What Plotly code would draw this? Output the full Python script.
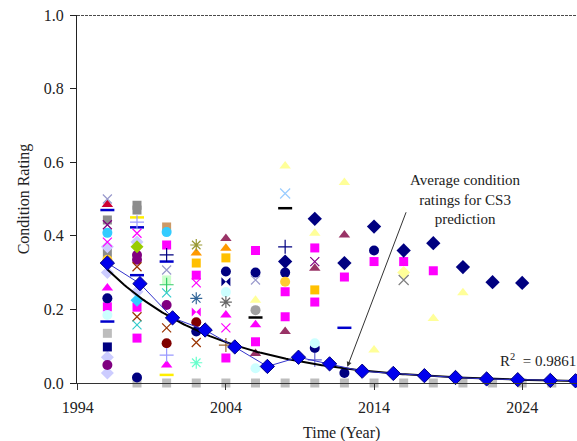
import numpy as np
import plotly.graph_objects as go

# ---------------- data (year, condition rating) ----------------
silver_square_x = [1996, 1998, 2000, 2002, 2004, 2006, 2008, 2010, 2012, 2014, 2016, 2018, 2020, 2022, 2024, 2026]
silver_square_y = [0.135, 0.0, 0.0, 0.0, 0.0, 0.0, 0.0, 0.0, 0.0, 0.0, 0.0, 0.0, 0.0, 0.0, 0.0, 0.0]

gray_square_x = [1996, 1996, 1998, 1998]
gray_square_y = [0.443, 0.353, 0.483, 0.47]

magenta_square_x = [1996, 1998, 1998, 2000, 2002, 2004, 2006, 2006, 2008, 2008, 2010, 2010, 2012, 2014, 2016, 2018]
magenta_square_y = [0.207, 0.122, 0.206, 0.375, 0.293, 0.068, 0.36, 0.112, 0.248, 0.18, 0.367, 0.22, 0.288, 0.33, 0.33, 0.305]

navy_diamond_x = [2008, 2010, 2012, 2014, 2016, 2018, 2020, 2022, 2024]
navy_diamond_y = [0.33, 0.446, 0.326, 0.425, 0.36, 0.38, 0.315, 0.274, 0.272]

navy_circle_x = [1996, 1998, 2002, 2004, 2006, 2008, 2010, 2012, 2014]
navy_circle_y = [0.23, 0.015, 0.14, 0.303, 0.30, 0.30, 0.095, 0.027, 0.36]

navy_square_x = [1996]
navy_square_y = [0.098]

purple_circle_x = [1996, 1998, 1998, 2000]
purple_circle_y = [0.049, 0.348, 0.335, 0.212]

darkred_circle_x = [2000, 2002]
darkred_circle_y = [0.108, 0.165]

lightyellow_triangle_x = [2006, 2008, 2010, 2012, 2014, 2018, 2020]
lightyellow_triangle_y = [0.225, 0.59, 0.407, 0.545, 0.09, 0.175, 0.245]

magenta_triangle_x = [1996, 2000, 2004, 2006]
magenta_triangle_y = [0.258, 0.049, 0.185, 0.158]

plum_triangle_x = [2004, 2006, 2008, 2010, 2012]
plum_triangle_y = [0.393, 0.08, 0.14, 0.312, 0.402]

red_triangle_x = [1996]
red_triangle_y = [0.485]

orange_triangle_x = [2002, 2004]
orange_triangle_y = [0.353, 0.366]

gold_square_x = [2002, 2004, 2010]
gold_square_y = [0.326, 0.34, 0.253]

yellow_circle_x = [1996, 2008]
yellow_circle_y = [0.335, 0.275]

yellow_dash_x = [1998, 2000]
yellow_dash_y = [0.45, 0.022]

cyan_circle_x = [1996, 2000]
cyan_circle_y = [0.408, 0.41]

cyan_diamond_x = [1998]
cyan_diamond_y = [0.225]

lightcyan_circle_x = [1996, 2004, 2006, 2010]
lightcyan_circle_y = [0.185, 0.247, 0.04, 0.108]

blue_dash_x = [1996, 1996, 1998, 1998, 2000, 2012]
blue_dash_y = [0.47, 0.167, 0.423, 0.293, 0.33, 0.15]

black_dash_x = [2006, 2008]
black_dash_y = [0.178, 0.475]

magenta_x_x = [1996, 1998, 2002, 2004]
magenta_x_y = [0.383, 0.407, 0.272, 0.15]

lavender_x_x = [1996, 2000, 2006]
lavender_x_y = [0.50, 0.307, 0.28]

brown_x_x = [1998, 1998, 2000, 2002]
brown_x_y = [0.316, 0.18, 0.15, 0.11]

cyan_x_x = [1998, 2000]
cyan_x_y = [0.158, 0.245]

lightblue_x_x = [2008]
lightblue_x_y = [0.515]

gray_x_x = [2016]
gray_x_y = [0.28]

purple_x_x = [1996, 2010]
purple_x_y = [0.43, 0.33]

olive_asterisk_x = [2002]
olive_asterisk_y = [0.375]

teal_asterisk_x = [2002]
teal_asterisk_y = [0.23]

aqua_asterisk_x = [2002]
aqua_asterisk_y = [0.055]

gray_asterisk_x = [2004]
gray_asterisk_y = [0.22]

lavender_cross_x = [1998, 2000]
lavender_cross_y = [0.437, 0.076]

navy_cross_x = [2000, 2008]
navy_cross_y = [0.348, 0.37]

green_cross_x = [2000]
green_cross_y = [0.267]

brown_cross_x = [2004]
brown_cross_y = [0.103]

blue_cross_x = [2010]
blue_cross_y = [0.063]

lavender_diamond_x = [1996, 1996, 1996, 1996, 1998, 1998]
lavender_diamond_y = [0.37, 0.30, 0.07, 0.027, 0.383, 0.248]

olive_diamond_x = [1998]
olive_diamond_y = [0.37]

lightgreen_square_x = [2000]
lightgreen_square_y = [0.28]

tan_square_x = [2000]
tan_square_y = [0.424]

magenta_bowtie_x = [2002]
magenta_bowtie_y = [0.193]

navy_bowtie_x = [2004]
navy_bowtie_y = [0.275]

lightyellow_diamond_x = [2016]
lightyellow_diamond_y = [0.30]

gray_circle_x = [2006]
gray_circle_y = [0.198]

# average condition ratings (CS3 prediction)
avg_x = [1996.0, 1998.2, 2000.4, 2002.6, 2004.6, 2006.8, 2008.9, 2011.0,
         2013.2, 2015.3, 2017.4, 2019.5, 2021.6, 2023.7, 2025.9, 2027.6]
avg_y = [0.326, 0.27, 0.177, 0.144, 0.098, 0.045, 0.07, 0.052,
         0.032, 0.026, 0.02, 0.015, 0.011, 0.009, 0.007, 0.006]

x_ticks = [1994, 2004, 2014, 2024]
y_ticks = [0.0, 0.2, 0.4, 0.6, 0.8, 1.0]
r2_label = "R<sup>2</sup>  = 0.9861"
note_label = "Average condition<br>ratings for CS3<br>prediction"

# ---------------- styles ----------------
series = [
    ("silver_square", silver_square_x, silver_square_y, "square", "#BDBDBD", 9),
    ("gray_square", gray_square_x, gray_square_y, "square", "#8C8C8C", 9),
    ("lavender_diamond", lavender_diamond_x, lavender_diamond_y, "diamond", "#CCCCFF", 10),
    ("tan_square", tan_square_x, tan_square_y, "square", "#CC9966", 9),
    ("magenta_square", magenta_square_x, magenta_square_y, "square", "#FF00FF", 9),
    ("navy_square", navy_square_x, navy_square_y, "square", "#000080", 9),
    ("gold_square", gold_square_x, gold_square_y, "square", "#FFC000", 9),
    ("lightgreen_square", lightgreen_square_x, lightgreen_square_y, "square", "#CCFFCC", 9),
    ("navy_circle", navy_circle_x, navy_circle_y, "circle", "#000080", 10),
    ("purple_circle", purple_circle_x, purple_circle_y, "circle", "#800080", 10),
    ("darkred_circle", darkred_circle_x, darkred_circle_y, "circle", "#800000", 10),
    ("yellow_circle", yellow_circle_x, yellow_circle_y, "circle", "#FFCC33", 10),
    ("cyan_circle", cyan_circle_x, cyan_circle_y, "circle", "#33CCFF", 10),
    ("lightcyan_circle", lightcyan_circle_x, lightcyan_circle_y, "circle", "#CCFFFF", 10),
    ("gray_circle", gray_circle_x, gray_circle_y, "circle", "#A0A0A0", 10),
    ("lightyellow_triangle", lightyellow_triangle_x, lightyellow_triangle_y, "triangle-up", "#FFFF99", 10),
    ("magenta_triangle", magenta_triangle_x, magenta_triangle_y, "triangle-up", "#FF00FF", 10),
    ("plum_triangle", plum_triangle_x, plum_triangle_y, "triangle-up", "#993366", 10),
    ("red_triangle", red_triangle_x, red_triangle_y, "triangle-up", "#CC0033", 10),
    ("orange_triangle", orange_triangle_x, orange_triangle_y, "triangle-up", "#FF9900", 10),
    ("cyan_diamond", cyan_diamond_x, cyan_diamond_y, "diamond", "#33CCFF", 10),
    ("olive_diamond", olive_diamond_x, olive_diamond_y, "diamond", "#99CC00", 10),
    ("lightyellow_diamond", lightyellow_diamond_x, lightyellow_diamond_y, "diamond", "#FFFF99", 10),
    ("navy_diamond", navy_diamond_x, navy_diamond_y, "diamond", "#000080", 11),
    ("magenta_bowtie", magenta_bowtie_x, magenta_bowtie_y, "bowtie", "#FF00FF", 9),
    ("navy_bowtie", navy_bowtie_x, navy_bowtie_y, "bowtie", "#000080", 9),
    ("blue_dash", blue_dash_x, blue_dash_y, "line-ew-open", "#0000CC", 10),
    ("yellow_dash", yellow_dash_x, yellow_dash_y, "line-ew-open", "#FFEE00", 10),
    ("black_dash", black_dash_x, black_dash_y, "line-ew-open", "#000000", 10),
    ("magenta_x", magenta_x_x, magenta_x_y, "x-thin-open", "#FF00FF", 9),
    ("lavender_x", lavender_x_x, lavender_x_y, "x-thin-open", "#9999CC", 9),
    ("brown_x", brown_x_x, brown_x_y, "x-thin-open", "#993300", 9),
    ("cyan_x", cyan_x_x, cyan_x_y, "x-thin-open", "#33CCCC", 9),
    ("lightblue_x", lightblue_x_x, lightblue_x_y, "x-thin-open", "#99CCFF", 10),
    ("gray_x", gray_x_x, gray_x_y, "x-thin-open", "#808080", 10),
    ("purple_x", purple_x_x, purple_x_y, "x-thin-open", "#800080", 9),
    ("olive_asterisk", olive_asterisk_x, olive_asterisk_y, "asterisk-open", "#999933", 10),
    ("teal_asterisk", teal_asterisk_x, teal_asterisk_y, "asterisk-open", "#336699", 10),
    ("aqua_asterisk", aqua_asterisk_x, aqua_asterisk_y, "asterisk-open", "#66FFCC", 10),
    ("gray_asterisk", gray_asterisk_x, gray_asterisk_y, "asterisk-open", "#666666", 10),
    ("lavender_cross", lavender_cross_x, lavender_cross_y, "cross-thin-open", "#9999FF", 10),
    ("navy_cross", navy_cross_x, navy_cross_y, "cross-thin-open", "#000080", 10),
    ("green_cross", green_cross_x, green_cross_y, "cross-thin-open", "#33CC66", 10),
    ("brown_cross", brown_cross_x, brown_cross_y, "cross-thin-open", "#996633", 10),
    ("blue_cross", blue_cross_x, blue_cross_y, "cross-thin-open", "#6666CC", 10),
]

fig = go.Figure()
for name, xs, ys, sym, col, size in series:
    open_sym = sym.endswith("open")
    lw = 2.5 if sym.startswith("line") else (1.2 if open_sym else 0)
    fig.add_trace(go.Scatter(
        x=xs, y=ys, mode="markers", name=name, cliponaxis=False,
        marker=dict(symbol=sym, color=col, size=size,
                    line=dict(color=col, width=lw)),
        showlegend=False, hoverinfo="skip"))

# exponential trend fitted to the averages
coef = np.polyfit(np.array(avg_x) - avg_x[0], np.log(avg_y), 1)
tx = np.linspace(avg_x[0], 2028, 200)
ty = np.exp(coef[1]) * np.exp(coef[0] * (tx - avg_x[0]))
fig.add_trace(go.Scatter(x=tx, y=ty, mode="lines", line=dict(color="black", width=2),
                         showlegend=False, hoverinfo="skip"))

fig.add_trace(go.Scatter(
    x=avg_x, y=avg_y, mode="lines+markers", cliponaxis=False,
    line=dict(color="#3333CC", width=1),
    marker=dict(symbol="diamond", size=11, color="#0000EE", line=dict(color="#000080", width=1)),
    showlegend=False, hoverinfo="skip"))

serif = "Liberation Serif, Times New Roman, serif"
tfont = dict(family=serif, size=16, color="#222222")
fig.update_layout(
    width=577, height=441,
    margin=dict(l=77, r=0, t=15, b=58),
    paper_bgcolor="white", plot_bgcolor="white",
    font=dict(family=serif, size=16, color="#222222"),
    xaxis=dict(range=[1993.95, 2027.7], tickvals=x_ticks, ticktext=[str(v) for v in x_ticks],
               showline=True, linecolor="#333333", linewidth=1.2, tickfont=tfont,
               ticks="outside", ticklen=6, tickcolor="#333333",
               showgrid=False, zeroline=False, ticklabelstandoff=4),
    yaxis=dict(range=[0, 1.0], tickvals=y_ticks, ticktext=[f"{v:.1f}" for v in y_ticks],
               showline=True, linecolor="#222222", linewidth=1.2, tickfont=tfont,
               ticks="outside", ticklen=6, tickcolor="#222222",
               showgrid=False, zeroline=False, ticklabelstandoff=3,
               title=dict(text="Condition Rating", font=dict(family=serif, size=16), standoff=10)),
    shapes=[dict(type="line", xref="paper", yref="y", x0=0, x1=1, y0=1.0, y1=1.0,
                 line=dict(color="#111111", width=1.3, dash="3px,1px"))],
    annotations=[
        dict(xref="paper", yref="paper", x=0.528, y=-0.135, text="Time (Year)",
             showarrow=False, font=dict(family=serif, size=16), xanchor="center", yanchor="middle"),
        dict(xref="x", yref="y", x=2020.2, y=0.50, text=note_label, showarrow=False,
             font=dict(family=serif, size=15), xanchor="center", yanchor="middle"),
        dict(xref="x", yref="y", x=2012.2, y=0.044, axref="x", ayref="y", ax=2016.4, ay=0.489,
             text=" ", showarrow=True, arrowhead=2, arrowsize=1, arrowwidth=1, arrowcolor="#333333"),
        dict(xref="x", yref="y", x=2022.4, y=0.062, text=r2_label, showarrow=False,
             font=dict(family=serif, size=15), xanchor="left", yanchor="middle"),
    ],
)

fig.write_html("out.html")
